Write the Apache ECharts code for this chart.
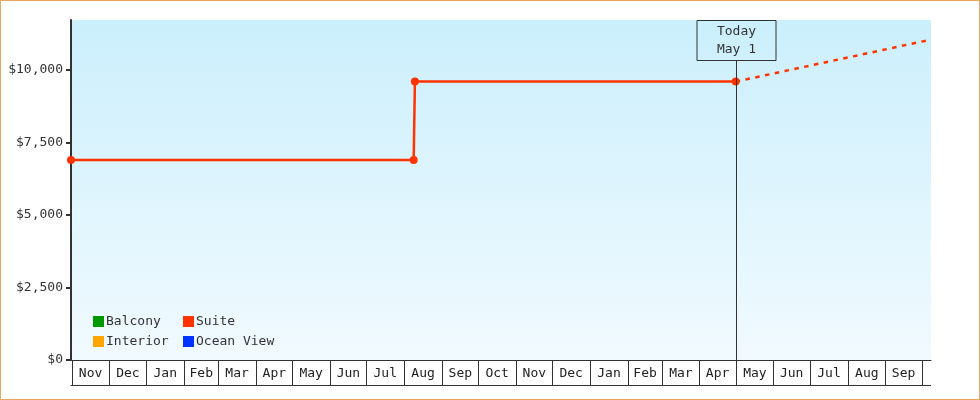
<!DOCTYPE html>
<html>
<head>
<meta charset="utf-8">
<script src="https://cdn.jsdelivr.net/npm/echarts@6/dist/echarts.min.js"></script>
<style>
    html, body { margin: 0; padding: 0; background: #fff; }
    #wrap { position: relative; width: 980px; height: 400px; }
    #chart { width: 980px; height: 400px; }
    #frame { position: absolute; left: 0; top: 0; width: 980px; height: 400px; box-sizing: border-box; border: 1px solid #e8a860; pointer-events: none; }
</style>
</head>
<body>
<div id="wrap">
    <div id="chart"></div>
    <div id="frame"></div>
</div>
<script>
// 数据
var axisStart = '2021-10-31';
var axisEnd = '2023-10-08T17:00';
var todayDate = '2023-05-01';
var todayLabel = 'Today\nMay 1';

var suiteDates = ['2021-10-31', '2022-08-09', '2022-08-10', '2023-05-01'];
var suiteValues = [6900, 6900, 9600, 9600];
// 预测（虚线）
var forecastDates = ['2023-05-01', '2023-10-08T17:00'];
var forecastValues = [9600, 11050];

var yMax = 11725;
var yTicks = [0, 2500, 5000, 7500, 10000];

// 月份格子
var monthStarts = [
    '2021-11-01', '2021-12-01', '2022-01-01', '2022-02-01', '2022-03-01', '2022-04-01',
    '2022-05-01', '2022-06-01', '2022-07-01', '2022-08-01', '2022-09-01', '2022-10-01',
    '2022-11-01', '2022-12-01', '2023-01-01', '2023-02-01', '2023-03-01', '2023-04-01',
    '2023-05-01', '2023-06-01', '2023-07-01', '2023-08-01', '2023-09-01', '2023-10-01'
];
var monthLabels = [
    'Nov', 'Dec', 'Jan', 'Feb', 'Mar', 'Apr', 'May', 'Jun', 'Jul', 'Aug', 'Sep', 'Oct',
    'Nov', 'Dec', 'Jan', 'Feb', 'Mar', 'Apr', 'May', 'Jun', 'Jul', 'Aug', 'Sep', ''
];

var FONT = '"DejaVu Sans Mono", monospace';

function ts(s) {
    var p = s.split(/[-T:]/);
    return new Date(+p[0], +p[1] - 1, +p[2], p[3] ? +p[3] : 0, p[4] ? +p[4] : 0).getTime();
}

function pairs(dates, values) {
    var out = [];
    for (var i = 0; i < dates.length; i++) {
        out.push([ts(dates[i]), values[i]]);
    }
    return out;
}

var monthData = [];
for (var i = 0; i < monthStarts.length; i++) {
    var end = i + 1 < monthStarts.length ? ts(monthStarts[i + 1]) : ts(axisEnd);
    monthData.push([ts(monthStarts[i]), end]);
}

var chart = echarts.init(document.getElementById('chart'));

var legendText = { fontFamily: FONT, fontSize: 13, color: '#333', padding: [0, 0, 0, -3] };

var option = {
    animation: false,
    backgroundColor: 'transparent',
    grid: {
        left: 71,
        right: 49,
        top: 20,
        bottom: 40,
        show: true,
        borderWidth: 0,
        backgroundColor: new echarts.graphic.LinearGradient(0, 0, 0, 1, [
            { offset: 0, color: '#cbeffc' },
            { offset: 1, color: '#f1faff' }
        ])
    },
    legend: [{
        orient: 'vertical',
        left: 93,
        top: 315,
        padding: 0,
        itemWidth: 11,
        itemHeight: 11,
        itemGap: 7,
        icon: 'rect',
        selectedMode: false,
        data: ['Balcony', 'Interior'],
        textStyle: legendText
    }, {
        orient: 'vertical',
        left: 183,
        top: 315,
        padding: 0,
        itemWidth: 11,
        itemHeight: 11,
        itemGap: 7,
        icon: 'rect',
        selectedMode: false,
        data: ['Suite', 'Ocean View'],
        textStyle: legendText
    }],
    xAxis: {
        type: 'time',
        min: ts(axisStart),
        max: ts(axisEnd),
        axisLine: { show: true, lineStyle: { color: '#333', width: 1 } },
        axisTick: { show: false },
        axisLabel: { show: false },
        splitLine: { show: false }
    },
    yAxis: {
        type: 'value',
        min: 0,
        max: yMax,
        axisLine: { show: true, lineStyle: { color: '#333', width: 2 } },
        axisTick: { show: true, length: 5, customValues: yTicks, lineStyle: { color: '#333', width: 2 } },
        axisLabel: {
            customValues: yTicks,
            margin: 8,
            padding: [3, 0, 0, 0],
            fontFamily: FONT,
            fontSize: 13,
            color: '#333',
            formatter: function (v) { return '$' + v.toLocaleString('en-US'); }
        },
        splitLine: { show: false }
    },
    series: [
        { name: 'Balcony', type: 'line', color: '#009900', data: [] },
        { name: 'Interior', type: 'line', color: '#ffa500', data: [] },
        { name: 'Ocean View', type: 'line', color: '#0033ff', data: [] },
        {
            name: 'Suite',
            type: 'line',
            color: '#ff3300',
            symbol: 'circle',
            symbolSize: 8,
            lineStyle: { width: 2.5 },
            z: 5,
            data: pairs(suiteDates, suiteValues)
        },
        {
            name: 'Suite',
            type: 'line',
            color: '#ff3300',
            showSymbol: false,
            lineStyle: { width: 2.5, type: [4.5, 5.5] },
            z: 4,
            data: pairs(forecastDates, forecastValues)
        },
        {
            // 底部月份格子
            type: 'custom',
            silent: true,
            z: 3,
            encode: { x: [0, 1] },
            data: monthData,
            renderItem: function (params, api) {
                var x0 = Math.round(api.coord([api.value(0), 0])[0]) + 0.5;
                var x1 = api.coord([api.value(1), 0])[0];
                var y0 = params.coordSys.y + params.coordSys.height;
                var y1 = y0 + 25.5;
                var stroke = { stroke: '#333', lineWidth: 1 };
                return {
                    type: 'group',
                    children: [
                        { type: 'line', shape: { x1: x0, y1: y0, x2: x0, y2: y1 }, style: stroke },
                        { type: 'line', shape: { x1: x0 - 2, y1: y1, x2: x1, y2: y1 }, style: stroke },
                        {
                            type: 'text',
                            style: {
                                text: monthLabels[params.dataIndex],
                                x: (x0 + x1) / 2,
                                y: (y0 + y1) / 2 + 1,
                                align: 'center',
                                verticalAlign: 'middle',
                                font: '13px ' + FONT,
                                fill: '#222'
                            }
                        }
                    ]
                };
            }
        },
        {
            // Today 标记
            type: 'custom',
            silent: true,
            z: 6,
            encode: { x: 0 },
            data: [[ts(todayDate)]],
            renderItem: function (params, api) {
                var x = Math.round(api.coord([api.value(0), 0])[0]) + 0.5;
                var top = params.coordSys.y;
                var bottom = params.coordSys.y + params.coordSys.height;
                return {
                    type: 'group',
                    children: [
                        { type: 'line', shape: { x1: x, y1: top + 40, x2: x, y2: bottom }, style: { stroke: '#333', lineWidth: 1 } },
                        { type: 'rect', shape: { x: x - 39.5, y: top + 0.5, width: 79, height: 40 }, style: { fill: 'none', stroke: '#333', lineWidth: 1 } },
                        {
                            type: 'text',
                            style: {
                                text: todayLabel,
                                x: x,
                                y: top + 21,
                                align: 'center',
                                verticalAlign: 'middle',
                                lineHeight: 18,
                                font: '13px ' + FONT,
                                fill: '#333'
                            }
                        }
                    ]
                };
            }
        }
    ]
};

chart.setOption(option);
</script>
</body>
</html>
